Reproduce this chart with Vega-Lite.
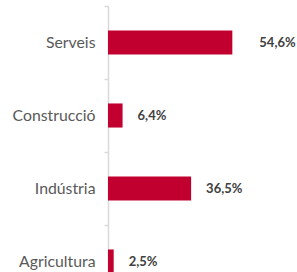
{
  "$schema": "https://vega.github.io/schema/vega-lite/v6.json",
  "autosize": "none",
  "width": 189,
  "height": 266,
  "padding": {"left": 108, "top": 6, "right": 0, "bottom": 0},
  "background": "white",
  "config": {"view": {"stroke": null}},
  "data": {"values": [
    {"sector": "Serveis", "pct": 54.6, "label": "54,6%"},
    {"sector": "Construcció", "pct": 6.4, "label": "6,4%"},
    {"sector": "Indústria", "pct": 36.5, "label": "36,5%"},
    {"sector": "Agricultura", "pct": 2.5, "label": "2,5%"}
  ]},
  "encoding": {
    "y": {
      "field": "sector", "type": "nominal", "sort": null,
      "scale": {"range": [0, 292], "paddingInner": 0, "paddingOuter": 0},
      "axis": {
        "title": null, "grid": false,
        "domainColor": "#D9D9D9", "domainWidth": 1.5,
        "tickColor": "#D9D9D9", "tickSize": 4, "tickWidth": 1.5, "tickBand": "extent",
        "labelFont": "Lato", "labelFontSize": 15.8, "labelColor": "#595959",
        "labelPadding": 9
      }
    },
    "x": {
      "field": "pct", "type": "quantitative",
      "scale": {"domain": [0, 83], "nice": false},
      "axis": null
    }
  },
  "layer": [
    {"mark": {"type": "bar", "color": "#C1002F", "height": {"band": 0.33}, "clip": true}},
    {
      "transform": [{"filter": "datum.sector !== 'Serveis'"}],
      "mark": {"type": "text", "align": "left", "dx": 15, "font": "Lato", "fontSize": 13, "fontWeight": "bold", "color": "#404040"},
      "encoding": {"text": {"field": "label"}}
    },
    {
      "transform": [{"filter": "datum.sector === 'Serveis'"}],
      "mark": {"type": "text", "align": "left", "dx": 27, "font": "Lato", "fontSize": 13, "fontWeight": "bold", "color": "#404040"},
      "encoding": {"text": {"field": "label"}}
    }
  ]
}
